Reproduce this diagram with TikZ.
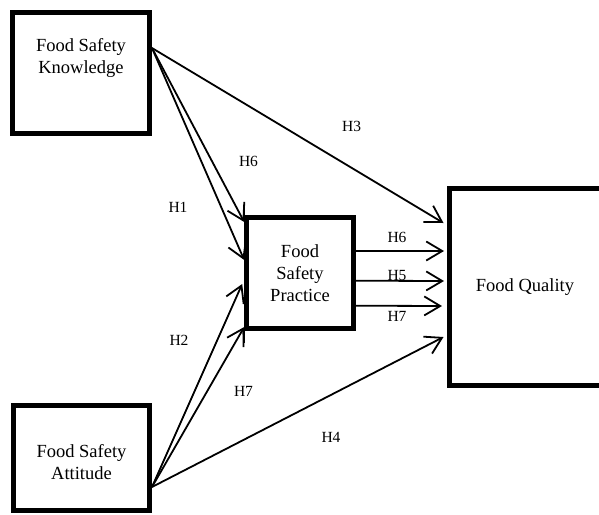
\documentclass[tikz,border=0pt]{standalone}
\usepackage{fontspec}
\setmainfont{Liberation Serif}
\usetikzlibrary{arrows.meta}

\begin{document}
\begin{tikzpicture}[x=1pt,y=-1pt,
  box/.style={draw, line width=5pt, inner sep=0pt},
  txt/.style={align=center, font=\fontsize{18.5}{22}\selectfont},
  hyp/.style={font=\fontsize{15.5}{18}\selectfont, inner sep=0pt},
  arr/.style={line width=1.8pt, -{Straight Barb[length=16pt,width=19pt]}}]
\useasboundingbox (0,0) rectangle (599,514);
\clip (0,0) rectangle (599,514);
% boxes
\node[box, minimum width=137pt, minimum height=121.5pt] (know) at (81,73) {};
\node[txt] (knowtxt) at ([yshift=15.5pt]know.center) {Food Safety\\Knowledge};
\node[box, minimum width=136pt, minimum height=105.5pt] (att) at (81.5,458) {};
\node[txt] (atttxt) at ([yshift=-4pt]att.center) {Food Safety\\Attitude};
\node[box, txt, minimum width=106.6pt, minimum height=111pt] (prac) at (300,273) {Food\\Safety\\Practice};
\node[box, minimum width=152pt, minimum height=196.5pt] (qual) at (525,287) {};
\node[txt] (qualtxt) at (qual.center) {Food Quality};
\draw[line width=1pt] ([yshift=10pt]prac.north west) -- ([yshift=-12pt]prac.south west);
% paths
\draw[arr] ([yshift=25pt]know.east) -- ([xshift=-3pt,yshift=64pt]qual.west);
\draw[arr] ([yshift=25pt]know.east) -- ([yshift=51pt]prac.west);
\draw[arr] ([yshift=25pt]know.east) -- ([yshift=13pt]prac.west);
\draw[arr] ([yshift=-29pt]att.east) -- ([xshift=-2pt,yshift=-11pt]prac.west);
\draw[arr] ([yshift=-29pt]att.east) -- ([yshift=-54pt]prac.west);
\draw[arr] ([yshift=-29pt]att.east) -- ([xshift=-3pt,yshift=-50pt]qual.west);
\draw[arr] ([yshift=22pt]prac.east) -- ([xshift=-2.5pt,yshift=36pt]qual.west);
\draw[arr] ([yshift=-7.7pt]prac.east) -- ([xshift=-2.5pt,yshift=6pt]qual.west);
\draw[arr] ([yshift=-32.7pt]prac.east) -- ([xshift=-4.5pt,yshift=-19pt]qual.west);
% labels
\node[hyp] (h3) at (351.7,126) {H3};
\node[hyp] (h6a) at (248.5,161) {H6};
\node[hyp] (h1) at (178,207) {H1};
\node[hyp] (h2) at (179,340) {H2};
\node[hyp] (h7a) at (243.5,391) {H7};
\node[hyp] (h4) at (331,437) {H4};
\node[hyp] (h6b) at (397,237) {H6};
\node[hyp] (h5) at (397,275) {H5};
\node[hyp] (h7b) at (397,316) {H7};
\end{tikzpicture}
\end{document}
